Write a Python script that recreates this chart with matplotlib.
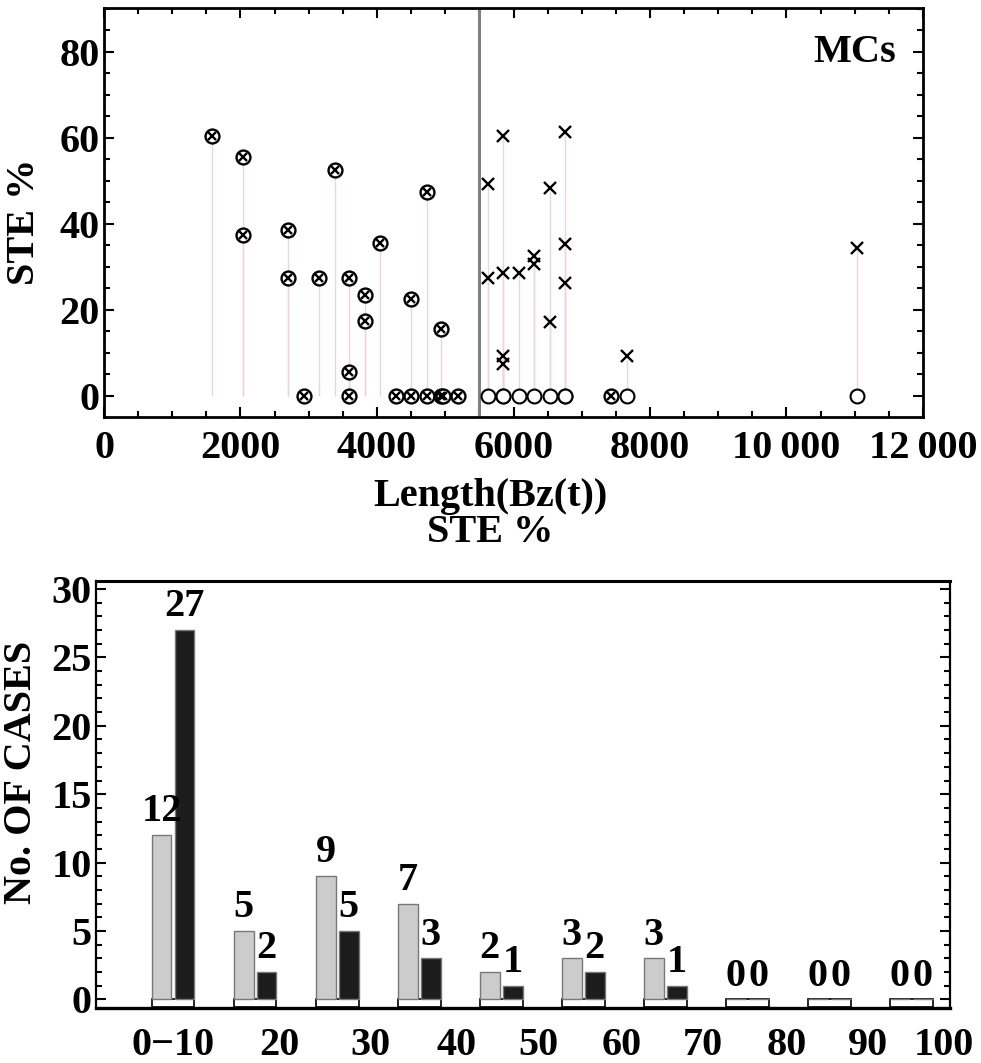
import matplotlib
matplotlib.use("Agg")
import matplotlib.pyplot as plt
from matplotlib.ticker import MultipleLocator
import numpy as np

plt.rcParams['font.family'] = ['Liberation Serif', 'DejaVu Serif']
plt.rcParams['font.weight'] = 'bold'

# --- top panel: STE % vs Length(Bz(t))
# crossed circles
cc_x = [1580, 2030, 2030, 2700, 2700, 2930, 3150, 3380, 3590, 3590, 3590,
        3830, 3830, 4050, 4280, 4500, 4500, 4730, 4730, 4940, 4940, 4970,
        5180, 7430]
cc_y = [60.5, 55.5, 37.5, 38.5, 27.5, 0, 27.5, 52.5, 27.5, 5.5, 0,
        23.5, 17.5, 35.5, 0, 22.5, 0, 47.5, 0, 15.5, 0, 0,
        0, 0]
# crosses
cr_x = [5620, 5620, 5850, 5850, 5850, 5850, 6080, 6300, 6300, 6530, 6530,
        6750, 6750, 6750, 7660, 11030]
cr_y = [49.2, 27.4, 60.5, 28.5, 9.3, 7.4, 28.5, 32.5, 30.6, 48.3, 17.3,
        61.3, 35.4, 26.3, 9.3, 34.5]
# open circles
oc_x = [5620, 5850, 5850, 6080, 6300, 6530, 6750, 6750, 7660, 11030]
oc_y = [0, 0, 0, 0, 0, 0, 0, 0, 0, 0]
split_len = 5500

# --- bottom panel: histogram of STE %
bins = ["0\u221210", "20", "30", "40", "50", "60", "70", "80", "90", "100"]
counts_a = [12, 5, 9, 7, 2, 3, 3, 0, 0, 0]
counts_b = [27, 2, 5, 3, 1, 2, 1, 0, 0, 0]
label_pos = [0, 1.30, 2.40, 3.46, 4.45, 5.47, 6.46, 7.48, 8.47, 9.40]

FS = 29

fig = plt.figure(figsize=(9.81, 10.63), dpi=100)
ax1 = fig.add_axes([104/981, 1-417/1063, 819/981, 409/1063])
ax2 = fig.add_axes([96/981, 1-1007.7/1063, 854/981, 427/1063])

# top
ax1.vlines(cc_x + cr_x, 0, cc_y + cr_y, color='#ecd2e4', lw=1, zorder=1)
ax1.axvline(split_len, color='#808080', lw=2.2, zorder=2)
ax1.plot(cc_x, cc_y, 'o', mfc='white', mec='k', ms=10, mew=1.7, zorder=3)
ax1.plot(cc_x, cc_y, 'x', color='k', ms=6, mew=1.7, zorder=4)
ax1.plot(oc_x, oc_y, 'o', mfc='white', mec='k', ms=10, mew=1.5, zorder=3)
ax1.plot(cr_x, cr_y, 'x', color='k', ms=8.5, mew=1.7, zorder=4)

ax1.set_xlim(0, 12000)
ax1.set_ylim(-4.9, 90.2)
ax1.xaxis.set_minor_locator(MultipleLocator(500))
ax1.yaxis.set_major_locator(MultipleLocator(20))
ax1.yaxis.set_minor_locator(MultipleLocator(5))
ax1.set_xticks(range(0, 12001, 2000))
ax1.set_xticklabels(["0", "2000", "4000", "6000", "8000", "10\u2009000", "12\u2009000"])
ax1.tick_params(which='both', direction='in', top=True, right=True, width=1.5,
                labelsize=FS)
ax1.tick_params(which='major', length=7)
ax1.tick_params(which='minor', length=4)
ax1.tick_params(axis='x', pad=9)
ax1.tick_params(axis='y', pad=3)
for s in ax1.spines.values():
    s.set_linewidth(2)
ax1.text(0.917, 0.892, "MCs", transform=ax1.transAxes, ha='center', va='center',
         fontsize=FS)

fig.text(25/981, 1-222/1063, "STE %", rotation=90, ha='center', va='center', fontsize=FS)
fig.text(490/981, 1-497/1063, "Length(Bz(t))", ha='center', va='center', fontsize=FS)
fig.text(490/981, 1-533/1063, "STE %", ha='center', va='center', fontsize=FS)
fig.text(22/981, 1-772/1063, "No. OF CASES", rotation=90, ha='center', va='center',
         fontsize=FS)

# bottom
x = np.arange(len(bins))
bw = 0.24
ax2.bar(x, 0.55, bottom=-0.55, width=0.52, color='white', edgecolor='k', lw=1.2, zorder=2)
ax2.bar(x - 0.14, counts_a, width=bw, color='#cccccc', edgecolor='#777777', lw=1, zorder=3)
ax2.bar(x + 0.14, counts_b, width=bw, color='#1c1c1c', edgecolor='#777777', lw=1, zorder=3)
for xi, a, b in zip(x, counts_a, counts_b):
    ax2.annotate(str(a), (xi - 0.14, a), xytext=(0, 10), textcoords='offset points',
                 ha='center', va='baseline', fontsize=FS)
    ax2.annotate(str(b), (xi + 0.14, b), xytext=(0, 10), textcoords='offset points',
                 ha='center', va='baseline', fontsize=FS)

ax2.set_xlim(-0.94, 9.47)
ax2.set_ylim(-0.6, 30.6)
ax2.yaxis.set_major_locator(MultipleLocator(5))
ax2.yaxis.set_minor_locator(MultipleLocator(1))
ax2.set_xticks(label_pos)
ax2.set_xticklabels(bins)
ax2.tick_params(axis='y', which='both', direction='in', right=True, width=1.5,
                labelsize=FS, pad=3)
ax2.tick_params(axis='y', which='major', length=7)
ax2.tick_params(axis='y', which='minor', length=4)
ax2.tick_params(axis='x', length=0, labelsize=FS, pad=14)
for s in ax2.spines.values():
    s.set_linewidth(1.6)
ax2.spines['bottom'].set_linewidth(2.4)
ax2.spines['top'].set_linewidth(2.2)

fig.savefig("out.png", dpi=100)
